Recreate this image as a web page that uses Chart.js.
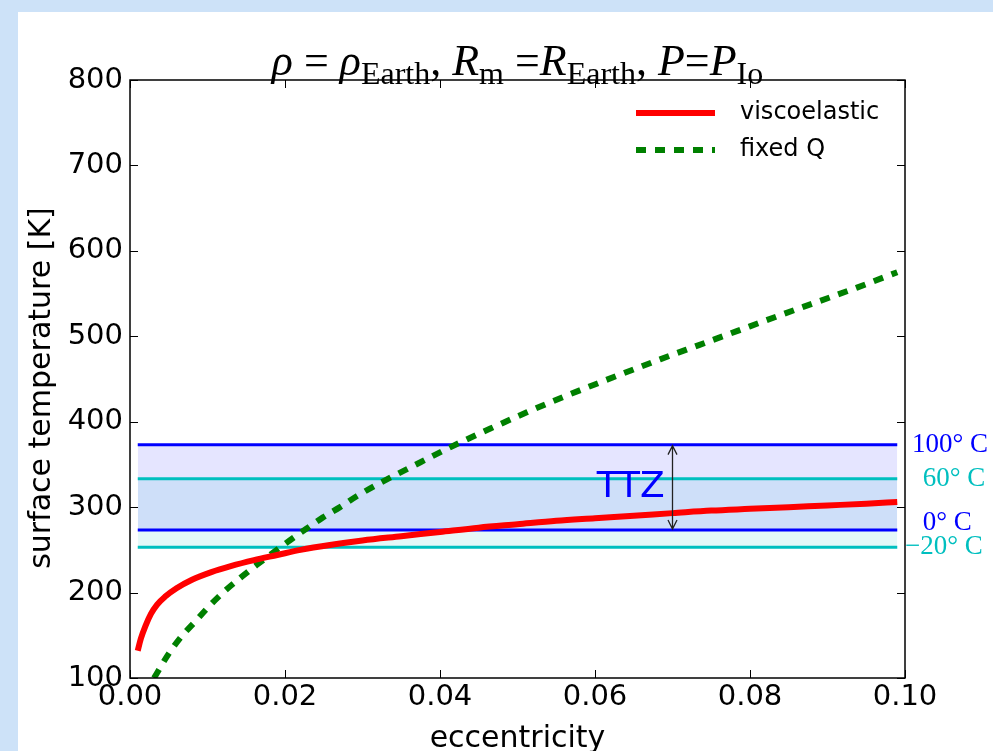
<!DOCTYPE html>
<html>
<head>
<meta charset="utf-8">
<script src="https://cdn.jsdelivr.net/npm/chart.js@4.4.0/dist/chart.umd.min.js"></script>
<style>
  html, body { margin: 0; padding: 0; background: #cde2f8; }
  #wrap { position: absolute; left: 18px; top: 12px; width: 975px; height: 739px; background: #fff; }
</style>
</head>
<body>
<div id="wrap"><canvas id="myChart" width="975" height="739"></canvas></div>
<script>
// DATOS
const viscoEcc  = [0.001, 0.0014, 0.002, 0.0027, 0.0035, 0.0045, 0.006, 0.008, 0.0105, 0.013, 0.016, 0.019, 0.022, 0.026, 0.03, 0.035, 0.04, 0.045, 0.05, 0.055, 0.06, 0.065, 0.07, 0.075, 0.08, 0.085, 0.09, 0.095, 0.099];
const viscoTemp = [132, 146, 161, 175, 186, 195, 205, 215, 224, 231, 238, 244, 250, 256, 261, 266, 271, 276, 280, 284, 287, 290, 293, 296, 298, 300, 302, 304, 306];

const fixedQEcc  = [0.0031, 0.0049, 0.0065, 0.0084, 0.0101, 0.012, 0.0142, 0.0163, 0.0185, 0.0206, 0.0228, 0.0249, 0.0271, 0.0293, 0.0318, 0.0365, 0.0413, 0.0465, 0.0512, 0.0559, 0.0598, 0.0632, 0.0684, 0.0735, 0.0783, 0.0834, 0.0886, 0.0938, 0.099];
const fixedQTemp = [100, 127, 147, 166, 183, 200, 217, 232, 247, 261, 275, 288, 300, 313, 326, 348, 370, 392, 411, 429, 443, 455, 473, 490, 506, 523, 540, 557, 575];

const bandEcc    = [0.001, 0.099];
const bandTemps  = [373.15, 333.15, 273.15, 253.15];
const bandLabels = ['100° C', '60° C', '0° C', '−20° C'];
const bandColors = ['#0000ff', '#00bfbf', '#0000ff', '#00bfbf'];

const xTicks = [0, 0.02, 0.04, 0.06, 0.08, 0.1];
const yTicks = [100, 200, 300, 400, 500, 600, 700, 800];

const pts = (xs, ys) => xs.map((x, i) => ({ x: x, y: ys[i] }));
const flat = (t) => bandEcc.map(x => ({ x: x, y: t }));

// DIBUJO EXTRA: marco, ticks hacia dentro, título, leyenda, etiquetas
const decor = {
    id: 'decor',
    afterDraw(chart) {
        const ctx = chart.ctx;
        const a = chart.chartArea;
        const xs = chart.scales.x, ys = chart.scales.y;
        ctx.save();

        // ticks hacia dentro
        ctx.strokeStyle = '#000';
        ctx.lineWidth = 1;
        ctx.beginPath();
        xTicks.forEach(v => {
            const px = Math.round(xs.getPixelForValue(v)) + 0.5;
            ctx.moveTo(px, a.bottom); ctx.lineTo(px, a.bottom - 8);
            ctx.moveTo(px, a.top); ctx.lineTo(px, a.top + 8);
        });
        yTicks.forEach(v => {
            const py = Math.round(ys.getPixelForValue(v)) + 0.5;
            ctx.moveTo(a.left, py); ctx.lineTo(a.left + 8, py);
            ctx.moveTo(a.right, py); ctx.lineTo(a.right - 8, py);
        });
        ctx.stroke();

        // marco
        ctx.lineWidth = 1.5;
        ctx.strokeRect(a.left, a.top, a.right - a.left, a.bottom - a.top);

        // eje y: título girado
        ctx.save();
        ctx.translate(24, 376);
        ctx.rotate(-Math.PI / 2);
        ctx.font = '30px "DejaVu Sans"';
        ctx.fillStyle = '#000';
        ctx.textAlign = 'center';
        ctx.textBaseline = 'middle';
        ctx.fillText('surface temperature [K]', 0, 0);
        ctx.restore();

        // título con subíndices
        const parts = [
            ['ρ', 'i'], [' = ', 'r'], ['ρ', 'i'], ['Earth', 's'], [', ', 'r'],
            ['R', 'i'], ['m', 's'], [' =', 'r'], ['R', 'i'], ['Earth', 's'], [', ', 'r'],
            ['P', 'i'], ['=', 'r'], ['P', 'i'], ['Io', 's']
        ];
        const fontFor = k => k === 'i' ? 'italic 44px "Liberation Serif"' :
                            k === 's' ? '32px "Liberation Serif"' : '44px "Liberation Serif"';
        let total = 0;
        parts.forEach(p => { ctx.font = fontFor(p[1]); total += ctx.measureText(p[0]).width; });
        let tx = (a.left + a.right) / 2 - total / 2;
        ctx.fillStyle = '#000';
        ctx.textAlign = 'left';
        ctx.textBaseline = 'alphabetic';
        parts.forEach(p => {
            ctx.font = fontFor(p[1]);
            ctx.fillText(p[0], tx, p[1] === 's' ? 72 : 63);
            tx += ctx.measureText(p[0]).width;
        });

        // leyenda
        ctx.textBaseline = 'middle';
        ctx.font = '24px "DejaVu Sans"';
        [0, 1].forEach(i => {
            const ds = chart.data.datasets[i];
            const y = 101 + i * 37;
            ctx.strokeStyle = ds.borderColor;
            ctx.lineWidth = ds.borderWidth;
            ctx.setLineDash(ds.borderDash || []);
            ctx.beginPath();
            ctx.moveTo(a.right - 269, y); ctx.lineTo(a.right - 190, y);
            ctx.stroke();
            ctx.setLineDash([]);
            ctx.fillStyle = '#000';
            ctx.fillText(ds.label, a.right - 165, y);
        });

        // etiquetas de temperatura a la derecha
        ctx.font = '27px "Liberation Serif"';
        const labX = [0.1009, 0.1023, 0.1023, 0.1000];
        const labT = [373.15, 333.15, 281, 253.15];
        bandLabels.forEach((t, i) => {
            ctx.fillStyle = bandColors[i];
            ctx.fillText(t, xs.getPixelForValue(labX[i]), ys.getPixelForValue(labT[i]));
        });

        // TTZ y flecha
        ctx.font = '36px "DejaVu Sans"';
        ctx.fillStyle = '#0000ff';
        ctx.textAlign = 'right';
        ctx.fillText('TTZ', xs.getPixelForValue(0.069), ys.getPixelForValue(323));
        const ax = xs.getPixelForValue(0.07);
        const y1 = ys.getPixelForValue(373.15), y2 = ys.getPixelForValue(273.15);
        ctx.strokeStyle = '#222';
        ctx.lineWidth = 1.3;
        ctx.beginPath();
        ctx.moveTo(ax, y1 + 1); ctx.lineTo(ax, y2 - 1);
        ctx.moveTo(ax - 4.5, y1 + 10); ctx.lineTo(ax, y1 + 1); ctx.lineTo(ax + 4.5, y1 + 10);
        ctx.moveTo(ax - 4.5, y2 - 10); ctx.lineTo(ax, y2 - 1); ctx.lineTo(ax + 4.5, y2 - 10);
        ctx.stroke();

        ctx.restore();
    }
};

const ctx = document.getElementById('myChart');

const myChart = new Chart(ctx, {
    type: 'line',
    data: {
        datasets: [{
            label: 'viscoelastic',
            data: pts(viscoEcc, viscoTemp),
            borderColor: '#ff0000',
            borderWidth: 6,
            cubicInterpolationMode: 'monotone',
            order: 0
        }, {
            label: 'fixed Q',
            data: pts(fixedQEcc, fixedQTemp),
            borderColor: '#008000',
            borderWidth: 6,
            borderDash: [10, 9],
            cubicInterpolationMode: 'monotone',
            order: 0
        }, {
            label: '100',
            data: flat(bandTemps[0]),
            borderColor: bandColors[0],
            borderWidth: 3,
            fill: 4,
            backgroundColor: 'rgba(0, 0, 255, 0.1)',
            order: 1
        }, {
            label: '60',
            data: flat(bandTemps[1]),
            borderColor: bandColors[1],
            borderWidth: 3,
            fill: 5,
            backgroundColor: 'rgba(0, 191, 191, 0.1)',
            order: 1
        }, {
            label: '0',
            data: flat(bandTemps[2]),
            borderColor: bandColors[2],
            borderWidth: 3,
            fill: false,
            order: 1
        }, {
            label: '-20',
            data: flat(bandTemps[3]),
            borderColor: bandColors[3],
            borderWidth: 3,
            fill: false,
            order: 1
        }]
    },
    options: {
        responsive: false,
        animation: false,
        devicePixelRatio: 1,
        elements: { point: { radius: 0 }, line: { borderCapStyle: 'butt' } },
        layout: { padding: { top: 68, right: 88, left: 0, bottom: 0 } },
        plugins: {
            legend: { display: false },
            tooltip: { enabled: false },
            filler: { drawTime: 'beforeDatasetsDraw' }
        },
        scales: {
            x: {
                type: 'linear',
                min: 0,
                max: 0.1,
                afterBuildTicks: s => { s.ticks = xTicks.map(v => ({ value: v })); },
                afterFit: s => { s.height = 73; },
                grid: { display: false, drawTicks: false },
                border: { display: false },
                ticks: {
                    padding: 2,
                    color: '#000',
                    font: { family: 'DejaVu Sans', size: 29 },
                    maxRotation: 0,
                    callback: v => v.toFixed(2)
                },
                title: {
                    display: true,
                    text: 'eccentricity',
                    color: '#000',
                    font: { family: 'DejaVu Sans', size: 30, lineHeight: 0.8 },
                    padding: 0
                }
            },
            y: {
                min: 100,
                max: 800,
                afterBuildTicks: s => { s.ticks = yTicks.map(v => ({ value: v })); },
                afterFit: s => { s.width = 112; },
                grid: { display: false, drawTicks: false },
                border: { display: false },
                ticks: {
                    padding: 7,
                    color: '#000',
                    font: { family: 'DejaVu Sans', size: 29 }
                },
                title: { display: false }
            }
        }
    },
    plugins: [decor]
});
</script>
</body>
</html>
